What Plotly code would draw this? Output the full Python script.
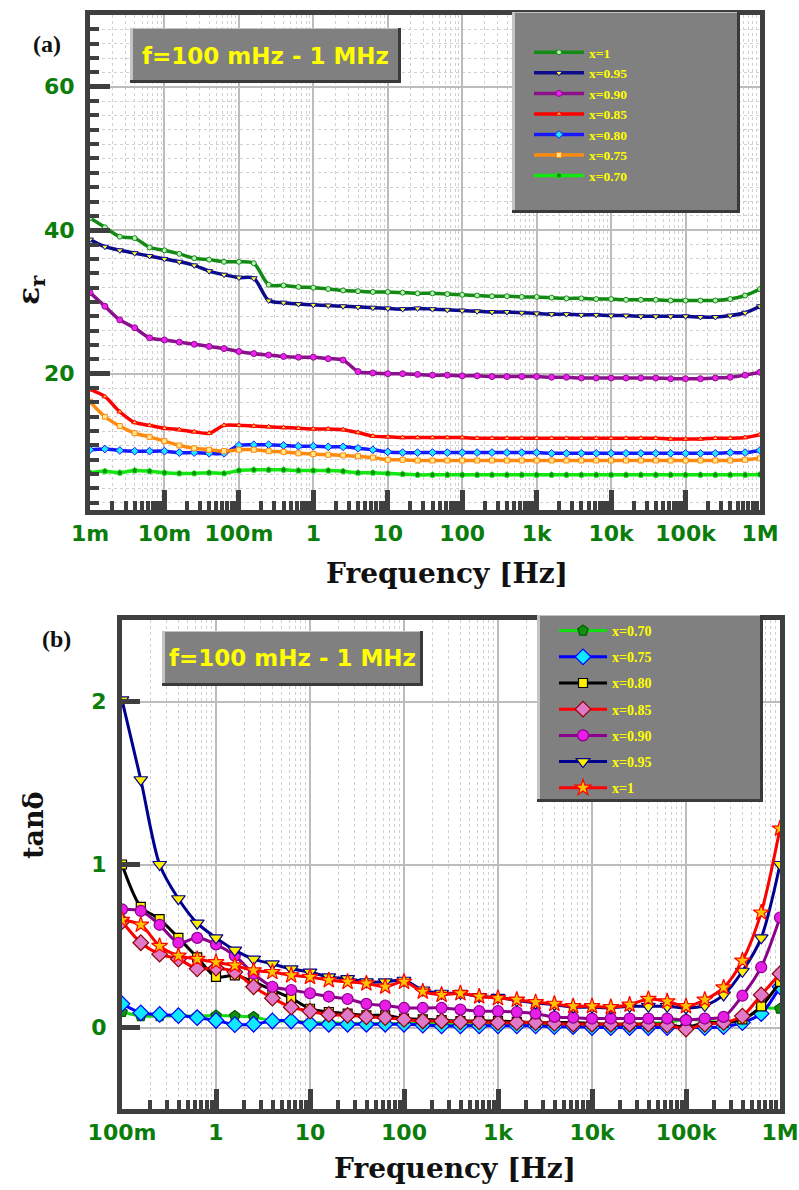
import numpy as np
import plotly.graph_objects as go

W, H = 799, 1190

# Frequency sweeps: 5 points per decade
freq_eps = np.logspace(-3, 6, 46)   # 1 mHz ... 1 MHz
freq_tan = np.logspace(-1, 6, 36)   # 100 mHz ... 1 MHz

# ---------------- (a) dielectric constant ----------------
eps_labels = ["x=1", "x=0.95", "x=0.90", "x=0.85", "x=0.80", "x=0.75", "x=0.70"]

eps_x100 = [41.7, 40.4, 39.1, 38.9, 37.6, 37.2, 36.7, 36.1, 35.9, 35.6,
            35.6, 35.4, 32.4, 32.3, 32.1, 32.0, 31.8, 31.6, 31.5, 31.4,
            31.4, 31.3, 31.2, 31.2, 31.1, 31.0, 30.9, 30.8, 30.8, 30.7,
            30.7, 30.6, 30.5, 30.5, 30.4, 30.4, 30.3, 30.3, 30.3, 30.2,
            30.2, 30.2, 30.2, 30.4, 30.9, 31.8]
eps_x095 = [38.7, 37.7, 37.2, 36.8, 36.4, 36.0, 35.6, 35.1, 34.3, 33.8,
            33.4, 33.3, 30.2, 29.9, 29.7, 29.6, 29.5, 29.4, 29.3, 29.2,
            29.1, 29.0, 29.1, 29.0, 28.9, 28.8, 28.7, 28.6, 28.6, 28.5,
            28.4, 28.3, 28.3, 28.2, 28.2, 28.1, 28.1, 28.0, 28.0, 28.0,
            28.0, 27.9, 27.9, 28.1, 28.5, 29.4]
eps_x090 = [31.3, 29.4, 27.5, 26.4, 25.0, 24.7, 24.4, 24.1, 23.8, 23.5,
            23.1, 22.8, 22.6, 22.4, 22.3, 22.3, 22.1, 21.9, 20.3, 20.1,
            20.0, 20.0, 19.9, 19.8, 19.8, 19.7, 19.7, 19.6, 19.6, 19.6,
            19.6, 19.5, 19.5, 19.4, 19.4, 19.4, 19.4, 19.4, 19.4, 19.3,
            19.3, 19.3, 19.4, 19.5, 19.8, 20.2]
eps_x085 = [17.8, 16.8, 14.7, 13.2, 12.8, 12.4, 12.2, 11.9, 11.7, 12.8,
            12.8, 12.7, 12.6, 12.5, 12.4, 12.3, 12.3, 12.2, 11.8, 11.3,
            11.2, 11.1, 11.1, 11.1, 11.1, 11.1, 11.0, 11.0, 11.0, 11.0,
            11.0, 11.0, 11.0, 11.0, 11.0, 11.0, 11.0, 11.0, 11.0, 10.9,
            10.9, 10.9, 11.0, 11.0, 11.1, 11.5]
eps_x080 = [9.4, 9.5, 9.3, 9.2, 9.2, 9.2, 9.0, 9.0, 8.9, 8.9,
            10.0, 10.1, 10.1, 10.0, 9.9, 9.9, 9.8, 9.8, 9.6, 9.4,
            9.1, 9.0, 9.0, 9.0, 9.0, 9.0, 9.0, 9.0, 9.0, 9.0,
            9.0, 8.9, 8.9, 8.9, 8.9, 8.9, 8.9, 8.9, 8.9, 8.9,
            8.9, 8.9, 8.9, 9.0, 9.0, 9.3]
eps_x075 = [16.1, 14.0, 12.7, 11.7, 11.2, 10.6, 10.0, 9.6, 9.4, 9.2,
            9.4, 9.4, 9.2, 9.1, 8.9, 8.8, 8.7, 8.6, 8.5, 8.3,
            8.0, 8.0, 7.9, 7.9, 7.9, 7.9, 7.9, 7.9, 7.9, 7.9,
            7.9, 7.9, 7.9, 7.9, 7.9, 7.9, 7.9, 7.9, 7.9, 7.9,
            7.9, 7.9, 7.9, 7.9, 8.0, 8.2]
eps_x070 = [6.2, 6.4, 6.2, 6.5, 6.4, 6.2, 6.1, 6.1, 6.2, 6.1,
            6.5, 6.6, 6.6, 6.6, 6.5, 6.5, 6.5, 6.4, 6.2, 6.2,
            6.1, 6.0, 5.9, 5.9, 5.9, 5.9, 5.9, 5.9, 5.9, 5.9,
            5.9, 5.9, 5.9, 5.9, 5.9, 5.9, 5.9, 5.9, 5.9, 5.9,
            5.9, 5.9, 5.9, 5.9, 5.9, 5.95]

# ---------------- (b) loss tangent ----------------
tan_labels = ["x=0.70", "x=0.75", "x=0.80", "x=0.85", "x=0.90", "x=0.95", "x=1"]

tan_x070 = [0.095, 0.07, 0.07, 0.07, 0.07, 0.073, 0.07, 0.065, 0.04, 0.04,
            0.03, 0.03, 0.025, 0.025, 0.025, 0.025, 0.025, 0.025, 0.02, 0.02,
            0.02, 0.02, 0.02, 0.02, 0.02, 0.02, 0.02, 0.02, 0.025, 0.03,
            0.05, 0.04, 0.03, 0.045, 0.115, 0.115]
tan_x075 = [0.145, 0.09, 0.08, 0.073, 0.06, 0.043, 0.018, 0.02, 0.04, 0.04,
            0.023, 0.02, 0.02, 0.02, 0.02, 0.02, 0.015, 0.01, 0.01, 0.01,
            0.01, 0.01, 0.01, 0.005, 0.005, 0.0, 0.0, 0.0, 0.0, 0.0,
            0.0, 0.0, 0.005, 0.03, 0.085, 0.25]
tan_x080 = [1.00, 0.74, 0.665, 0.55, 0.43, 0.31, 0.32, 0.28, 0.23, 0.18,
            0.115, 0.095, 0.085, 0.075, 0.075, 0.055, 0.05, 0.045, 0.04, 0.04,
            0.04, 0.035, 0.03, 0.03, 0.03, 0.025, 0.02, 0.02, 0.02, 0.02,
            0.0, 0.03, 0.03, 0.05, 0.13, 0.28]
tan_x085 = [0.65, 0.52, 0.45, 0.42, 0.36, 0.365, 0.34, 0.25, 0.18, 0.125,
            0.10, 0.08, 0.075, 0.065, 0.06, 0.05, 0.04, 0.04, 0.035, 0.035,
            0.03, 0.03, 0.03, 0.025, 0.02, 0.02, 0.02, 0.02, 0.02, 0.015,
            -0.01, 0.02, 0.03, 0.07, 0.20, 0.33]
tan_x090 = [0.725, 0.715, 0.63, 0.52, 0.55, 0.51, 0.44, 0.33, 0.25, 0.23,
            0.21, 0.19, 0.175, 0.145, 0.135, 0.12, 0.12, 0.12, 0.11, 0.10,
            0.10, 0.095, 0.085, 0.065, 0.06, 0.055, 0.055, 0.055, 0.055, 0.055,
            0.045, 0.055, 0.065, 0.195, 0.37, 0.675]
tan_x095 = [2.01, 1.52, 1.00, 0.79, 0.64, 0.55, 0.475, 0.42, 0.39, 0.36,
            0.34, 0.31, 0.30, 0.28, 0.28, 0.29, 0.23, 0.21, 0.21, 0.19,
            0.185, 0.165, 0.15, 0.14, 0.125, 0.125, 0.12, 0.13, 0.13, 0.13,
            0.12, 0.135, 0.20, 0.345, 0.55, 1.00]
tan_x100 = [0.66, 0.63, 0.50, 0.44, 0.42, 0.40, 0.38, 0.35, 0.34, 0.32,
            0.31, 0.29, 0.28, 0.27, 0.25, 0.28, 0.22, 0.20, 0.21, 0.19,
            0.18, 0.17, 0.155, 0.145, 0.13, 0.13, 0.125, 0.14, 0.175, 0.16,
            0.13, 0.17, 0.245, 0.41, 0.705, 1.22]

ticks_a = [1e-3, 1e-2, 1e-1, 1, 10, 100, 1e3, 1e4, 1e5, 1e6]
ticktext_a = ["1m", "10m", "100m", "1", "10", "100", "1k", "10k", "100k", "1M"]
ticks_b = [1e-1, 1, 10, 100, 1e3, 1e4, 1e5, 1e6]
ticktext_b = ["100m", "1", "10", "100", "1k", "10k", "100k", "1M"]

# line colour, marker symbol, marker fill, marker outline, marker size
style_a = [
    ("#138a13", "circle", "#b8f0b8", "#138a13", 5),
    ("#0c0c8c", "triangle-down", "#ffff30", "#0c0c8c", 6),
    ("#8b108b", "circle", "#ee22ee", "#8b108b", 6),
    ("#ff0000", "triangle-up", "#ffc040", "#ff0000", 5),
    ("#1818ff", "diamond", "#20e8ff", "#1818ff", 6),
    ("#ff8a10", "square", "#ffe890", "#ff8a10", 5),
    ("#10e810", "pentagon", "#108a10", "#10e810", 6),
]
style_b = [
    ("#10dd10", "pentagon", "#109010", "#005a00", 11),
    ("#0000ff", "diamond", "#10e8ff", "#0000ff", 12),
    ("#000000", "square", "#ffee00", "#000000", 9),
    ("#ff0000", "diamond", "#e07ac8", "#8b0000", 12),
    ("#8a008a", "circle", "#e61ee6", "#8a008a", 11),
    ("#000090", "triangle-down", "#ffee00", "#000090", 12),
    ("#ff0000", "star", "#ffc400", "#ff0000", 12),
]

eps_series = [eps_x100, eps_x095, eps_x090, eps_x085, eps_x080, eps_x075, eps_x070]
tan_series = [tan_x070, tan_x075, tan_x080, tan_x085, tan_x090, tan_x095, tan_x100]

fig = go.Figure()

for i, (name, vals) in enumerate(zip(eps_labels, eps_series)):
    lc, sym, fill, edge, ms = style_a[i]
    fig.add_trace(go.Scatter(
        x=freq_eps, y=vals, name=name, mode="lines+markers",
        line=dict(color=lc, width=3.5, shape="spline", smoothing=0.8),
        marker=dict(symbol=sym, size=ms, color=fill, line=dict(color=edge, width=1)),
        xaxis="x", yaxis="y", legend="legend", legendgroup="a%d" % i,
    ))

for i, (name, vals) in enumerate(zip(tan_labels, tan_series)):
    lc, sym, fill, edge, ms = style_b[i]
    fig.add_trace(go.Scatter(
        x=freq_tan, y=vals, name=name, mode="lines+markers",
        line=dict(color=lc, width=3, shape="spline", smoothing=0.8),
        marker=dict(symbol=sym, size=ms, color=fill, line=dict(color=edge, width=1.2)),
        xaxis="x2", yaxis="y2", legend="legend2", legendgroup="b%d" % i,
    ))

AX = "#3f3f3f"
GREEN = "#0b7d0b"
tickfont = dict(family="DejaVu Sans", size=22, color=GREEN, weight="bold")


def px(x):
    return x / W


def py(y):
    return 1 - y / H


minor_x = dict(ticks="inside", ticklen=9, tickwidth=4, tickcolor=AX, dtick="D1",
               showgrid=True, gridcolor="#d0d0d0", griddash="dot", gridwidth=1)

common = dict(showline=True, linewidth=5, linecolor=AX, mirror=True,
              tickfont=tickfont, zeroline=False, automargin=False,
              ticks="inside", tickwidth=5, tickcolor=AX,
              showgrid=True, gridcolor="#bcbcbc", gridwidth=1.5)

fig.update_layout(
    width=W, height=H, margin=dict(l=0, r=0, t=0, b=0, autoexpand=False),
    paper_bgcolor="white", plot_bgcolor="white", showlegend=True,
    xaxis=dict(type="log", range=[-3, 6], domain=[px(90), px(760)], anchor="y",
               tickmode="array", tickvals=ticks_a, ticktext=ticktext_a,
               ticklen=20, minor=minor_x, **common),
    yaxis=dict(range=[1, 70], domain=[py(510), py(15)], anchor="x",
               tickmode="array", tickvals=[20, 40, 60], ticklen=20,
               minor=dict(ticks="inside", ticklen=9, tickwidth=4, tickcolor=AX,
                          dtick=2, tick0=0, showgrid=True, gridcolor="#d0d0d0",
                          griddash="dot", gridwidth=1),
               ticklabelstandoff=6, **common),
    xaxis2=dict(type="log", range=[-1, 6], domain=[px(122), px(780)], anchor="y2",
                tickmode="array", tickvals=ticks_b, ticktext=ticktext_b,
                ticklen=20, minor=minor_x, **common),
    yaxis2=dict(range=[-0.5, 2.5], domain=[py(1109), py(620)], anchor="x2",
                tickmode="array", tickvals=[0, 1, 2], ticklen=18,
                ticklabelstandoff=6, **common),
    legend=dict(x=px(529), y=py(37), xanchor="left", yanchor="top",
                bgcolor="rgba(0,0,0,0)", borderwidth=0, tracegroupgap=0,
                itemwidth=50,
                font=dict(family="Liberation Serif", size=13.5, color="#ffff00", weight="bold")),
    legend2=dict(x=px(554), y=py(615), xanchor="left", yanchor="top",
                 bgcolor="rgba(0,0,0,0)", borderwidth=0, tracegroupgap=5,
                 itemwidth=48,
                 font=dict(family="Liberation Serif", size=14, color="#ffff00", weight="bold")),
)


def bevel_box(x0, y0, x1, y1, light="#c4c4c4", dark="#3a3a3a", face="#808080", t=3):
    out = []
    out.append(dict(type="rect", xref="paper", yref="paper", layer="above",
                    x0=px(x0), x1=px(x1), y0=py(y1), y1=py(y0),
                    fillcolor=dark, line=dict(width=0)))
    out.append(dict(type="rect", xref="paper", yref="paper", layer="above",
                    x0=px(x0), x1=px(x1 - t), y0=py(y1 - t), y1=py(y0),
                    fillcolor=light, line=dict(width=0)))
    out.append(dict(type="rect", xref="paper", yref="paper", layer="above",
                    x0=px(x0 + t), x1=px(x1 - t), y0=py(y1 - t), y1=py(y0 + 1),
                    fillcolor=face, line=dict(width=0)))
    return out


shapes = []
shapes += bevel_box(130, 28, 401, 83)
shapes += bevel_box(162, 631, 423, 686)
shapes += bevel_box(512, 12, 740, 213, t=3)
shapes += bevel_box(537, 615, 763, 802, t=3)
fig.update_layout(shapes=shapes)

box_font = dict(family="DejaVu Sans", size=23, color="#ffff00", weight="bold")
title_font = dict(family="DejaVu Serif", size=28, color="#111111", weight="bold")
panel_font = dict(family="Liberation Serif", size=24, color="#111111", weight="bold")

annotations = [
    dict(text="f=100 mHz - 1 MHz", x=px(265), y=py(56), font=box_font),
    dict(text="f=100 mHz - 1 MHz", x=px(292), y=py(658), font=box_font),
    dict(text="Frequency [Hz]", x=px(447), y=py(573), font=title_font),
    dict(text="Frequency [Hz]", x=px(455), y=py(1168), font=title_font),
    dict(text="ε<sub>r</sub>", x=px(30), y=py(290), textangle=-90,
         font=dict(family="DejaVu Serif", size=30, color="#111111", weight="bold")),
    dict(text="tanδ", x=px(33), y=py(825), textangle=-90,
         font=dict(family="DejaVu Serif", size=27, color="#111111", weight="bold")),
    dict(text="(a)", x=px(47), y=py(44), font=panel_font),
    dict(text="(b)", x=px(56), y=py(639), font=panel_font),
]
for a in annotations:
    a.update(xref="paper", yref="paper", showarrow=False, xanchor="center", yanchor="middle")
fig.update_layout(annotations=annotations)

fig.write_html("out.html")
